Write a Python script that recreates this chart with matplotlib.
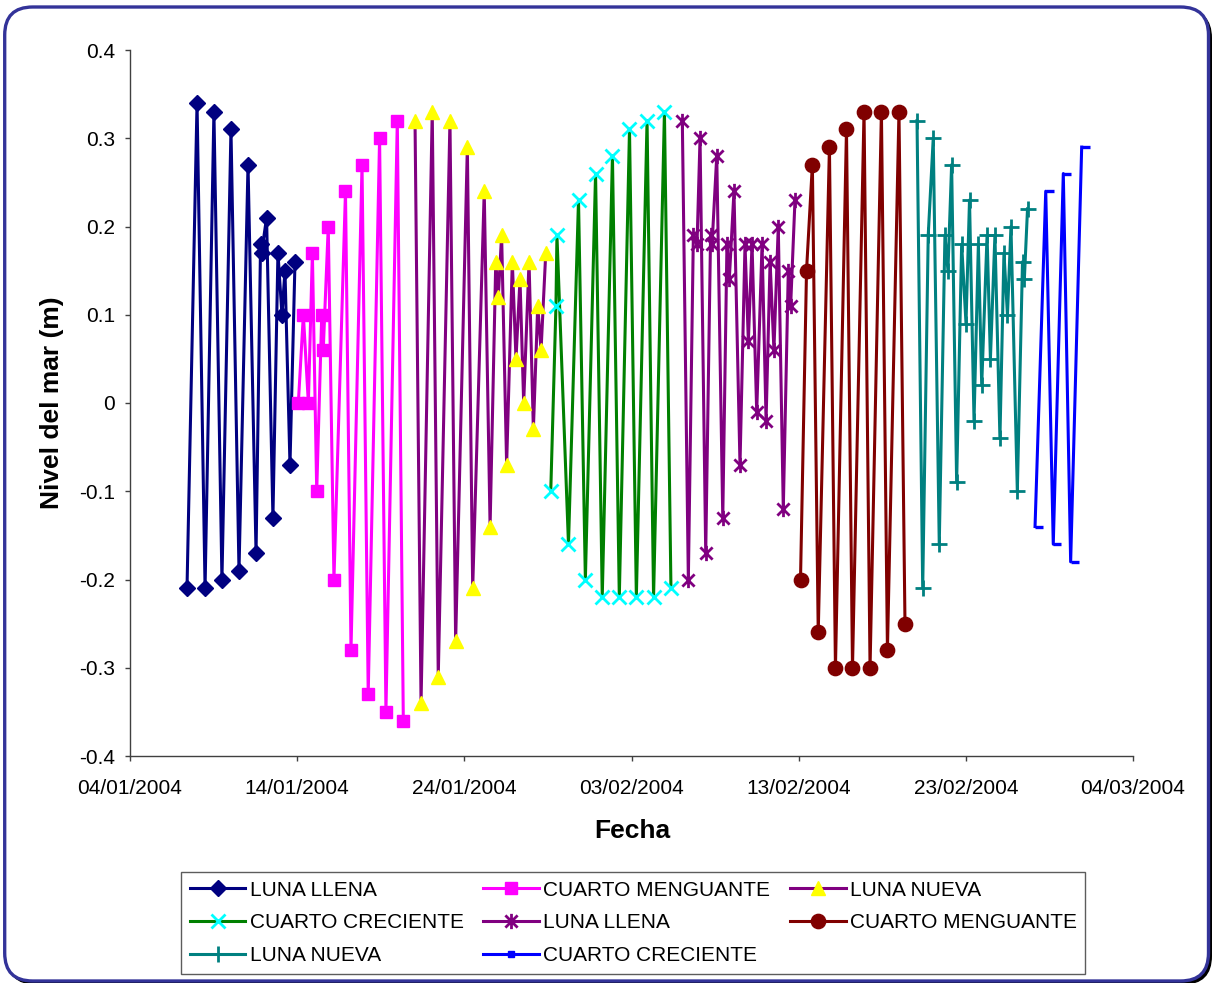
import matplotlib
matplotlib.use("Agg")
import matplotlib.pyplot as plt
import matplotlib.dates as mdates
from matplotlib.path import Path
from matplotlib.patches import FancyBboxPatch
from matplotlib.transforms import IdentityTransform
from matplotlib.lines import Line2D
import numpy as np
from datetime import datetime

plt.rcParams['font.family'] = ['Liberation Sans', 'DejaVu Sans']
plt.rcParams['axes.unicode_minus'] = False

# ---------------- data (x = days since 01/01/2004 00:00, y = sea level m) ----------------
BASE_DATE = datetime(2004, 1, 1)

s1_dias = [6.41, 7.01, 7.49, 8.02, 8.50, 9.04, 9.52, 10.06, 10.54, 10.81, 10.87,
           11.17, 11.55, 11.85, 12.09, 12.27, 12.57, 12.87]
s1_nivel = [-0.21, 0.34, -0.21, 0.33, -0.20, 0.31, -0.19, 0.27, -0.17, 0.18, 0.17,
            0.21, -0.13, 0.17, 0.10, 0.15, -0.07, 0.16]

s2_dias = [13.07, 13.37, 13.67, 13.91, 14.17, 14.47, 14.56, 14.86, 15.20, 15.89,
           16.22, 16.88, 17.25, 17.93, 18.31, 18.99, 19.35]
s2_nivel = [0.00, 0.10, 0.00, 0.17, -0.10, 0.10, 0.06, 0.20, -0.20, 0.24,
            -0.28, 0.27, -0.33, 0.30, -0.35, 0.32, -0.36]

s3_dias = [20.05, 20.41, 21.08, 21.44, 22.14, 22.48, 23.18, 23.50, 24.19, 24.54,
           24.88, 25.03, 25.23, 25.53, 25.87, 26.09, 26.33, 26.55, 26.87, 27.13,
           27.39, 27.59, 27.87]
s3_nivel = [0.32, -0.34, 0.33, -0.31, 0.32, -0.27, 0.29, -0.21, 0.24, -0.14,
            0.16, 0.12, 0.19, -0.07, 0.16, 0.05, 0.14, 0.00, 0.16, -0.03,
            0.11, 0.06, 0.17]

s4_dias = [28.17, 28.48, 28.54, 29.23, 29.83, 30.24, 30.85, 31.25, 31.86, 32.27,
           32.88, 33.29, 33.93, 34.32, 34.97, 35.36]
s4_nivel = [-0.10, 0.11, 0.19, -0.16, 0.23, -0.20, 0.26, -0.22, 0.28, -0.22,
            0.31, -0.22, 0.32, -0.22, 0.33, -0.21]

s5_dias = [36.04, 36.40, 36.70, 36.92, 37.10, 37.44, 37.73, 37.82, 38.10, 38.46,
           38.71, 38.85, 39.13, 39.49, 39.79, 39.99, 40.21, 40.49, 40.81, 41.05,
           41.29, 41.52, 41.78, 42.08, 42.38, 42.52, 42.78]
s5_nivel = [0.32, -0.20, 0.19, 0.18, 0.30, -0.17, 0.19, 0.18, 0.28, -0.13,
            0.18, 0.14, 0.24, -0.07, 0.18, 0.07, 0.18, -0.01, 0.18, -0.02,
            0.16, 0.06, 0.20, -0.12, 0.15, 0.11, 0.23]

s6_dias = [43.11, 43.47, 43.82, 44.17, 44.84, 45.20, 45.86, 46.22, 46.91, 47.27,
           47.95, 48.31, 49.00, 49.36]
s6_nivel = [-0.20, 0.15, 0.27, -0.26, 0.29, -0.30, 0.31, -0.30, 0.33, -0.30,
            0.33, -0.28, 0.33, -0.25]

s7_dias = [50.08, 50.42, 50.75, 51.05, 51.41, 51.75, 51.93, 52.15, 52.45, 52.75,
           53.01, 53.22, 53.49, 53.75, 53.95, 54.27, 54.47, 54.74, 55.04, 55.28,
           55.49, 55.70, 56.08, 56.39, 56.50, 56.69]
s7_nivel = [0.32, -0.21, 0.19, 0.30, -0.16, 0.19, 0.15, 0.27, -0.09, 0.18,
            0.09, 0.23, -0.02, 0.18, 0.02, 0.19, 0.05, 0.19, -0.04, 0.17,
            0.10, 0.20, -0.10, 0.16, 0.14, 0.22]

s8_dias = [57.14, 57.78, 58.23, 58.83, 59.27, 59.93]
s8_nivel = [-0.14, 0.24, -0.16, 0.26, -0.18, 0.29]

series_labels = ['LUNA LLENA', 'CUARTO MENGUANTE', 'LUNA NUEVA', 'CUARTO CRECIENTE',
                 'LUNA LLENA', 'CUARTO MENGUANTE', 'LUNA NUEVA', 'CUARTO CRECIENTE']

x_tick_dates = ['2004-01-04', '2004-01-14', '2004-01-24', '2004-02-03',
                '2004-02-13', '2004-02-23', '2004-03-04']
y_ticks = [-0.4, -0.3, -0.2, -0.1, 0.0, 0.1, 0.2, 0.3, 0.4]

# ---------------- figure ----------------
W, H = 1212, 983
fig = plt.figure(figsize=(W / 100, H / 100), dpi=100)
fig.patch.set_facecolor('white')

# rounded border with shadow (pixel coords)
shadow = FancyBboxPatch((7.5, -1.0), 1203.8, 974, boxstyle="round,pad=0,rounding_size=28",
                        transform=IdentityTransform(), facecolor='black', edgecolor='black',
                        lw=1, zorder=-3)
box = FancyBboxPatch((4.7, 2.0), 1203.8, 974, boxstyle="round,pad=0,rounding_size=28",
                     transform=IdentityTransform(), facecolor='white', edgecolor='#333399',
                     lw=2.4, zorder=-2)
fig.patches.extend([shadow, box])

ax = fig.add_axes([130 / W, 1 - 756 / H, (1133 - 130) / W, (756 - 50) / H])
ax.set_facecolor('none')

base = mdates.date2num(BASE_DATE)

def xs(d):
    return base + np.asarray(d)

# custom markers
asterisk = Path([(-1, -1), (1, 1), (-1, 1), (1, -1), (0, -1.25), (0, 1.25)],
                [Path.MOVETO, Path.LINETO, Path.MOVETO, Path.LINETO, Path.MOVETO, Path.LINETO])
dash_right = Path([(0, 0), (1, 0)], [Path.MOVETO, Path.LINETO])

LW = 2.2
h1, = ax.plot(xs(s1_dias), s1_nivel, color='#000080', lw=LW, marker='D', ms=7.8,
              mfc='#000080', mec='#000080', label=series_labels[0])
h2, = ax.plot(xs(s2_dias), s2_nivel, color='#FF00FF', lw=LW, marker='s', ms=9.3,
              mfc='#FF00FF', mec='#FF00FF', label=series_labels[1])
h3, = ax.plot(xs(s3_dias), s3_nivel, color='#800080', lw=LW, marker='^', ms=10.5,
              mfc='#FFFF00', mec='#FFFF00', label=series_labels[2])
h4, = ax.plot(xs(s4_dias), s4_nivel, color='#008000', lw=LW, marker='x', ms=9.5,
              mec='#00FFFF', mew=2, label=series_labels[3])
h5, = ax.plot(xs(s5_dias), s5_nivel, color='#800080', lw=LW, marker=asterisk, ms=11,
              mfc='none', mec='#800080', mew=2, label=series_labels[4])
h6, = ax.plot(xs(s6_dias), s6_nivel, color='#800000', lw=LW, marker='o', ms=10.3,
              mfc='#800000', mec='#800000', label=series_labels[5])
h7, = ax.plot(xs(s7_dias), s7_nivel, color='#008080', lw=LW, marker='+', ms=11,
              mec='#008080', mew=2, label=series_labels[6])
h8, = ax.plot(xs(s8_dias), s8_nivel, color='#0000FF', lw=LW, marker=dash_right, ms=12,
              mfc='none', mec='#0000FF', mew=2.4, label=series_labels[7])

# axes styling
axis_color = '#404040'
for side in ['top', 'right']:
    ax.spines[side].set_visible(False)
for side in ['left', 'bottom']:
    ax.spines[side].set_color(axis_color)
    ax.spines[side].set_linewidth(1)

tick_nums = [mdates.date2num(datetime.strptime(d, '%Y-%m-%d')) for d in x_tick_dates]
ax.set_xlim(tick_nums[0], tick_nums[-1])
ax.set_xticks(tick_nums)
ax.xaxis.set_major_formatter(mdates.DateFormatter('%d/%m/%Y'))
ax.set_ylim(y_ticks[0], y_ticks[-1])
ax.set_yticks(y_ticks)
ax.set_yticklabels(['%g' % round(v, 1) for v in y_ticks])
ax.tick_params(axis='both', direction='out', length=3.8, width=1, color=axis_color,
               labelsize=15, labelcolor='black')
ax.tick_params(axis='y', pad=7)
ax.tick_params(axis='x', pad=13)

fig.text(52 / W, 1 - 403 / H, 'Nivel del mar (m)', rotation=90, ha='center', va='center',
         fontsize=19, fontweight='bold')
fig.text(632 / W, 1 - 838 / H, 'Fecha', ha='center', va='baseline',
         fontsize=19, fontweight='bold')

# legend (row-wise order as in the reference)
h8_leg = Line2D([], [], color='#0000FF', lw=LW, marker='s', ms=4, mfc='#0000FF', mec='#0000FF')
handles = [h1, h4, h7, h2, h5, h8_leg, h3, h6]
labels = [series_labels[i] for i in [0, 3, 6, 1, 4, 7, 2, 5]]
leg = ax.legend(handles, labels, ncol=3, loc='upper left',
                bbox_to_anchor=(181 / W, 1 - 872 / H), bbox_transform=fig.transFigure,
                frameon=True, fancybox=False, shadow=False, fontsize=15,
                handlelength=2.67, handletextpad=0.2, columnspacing=0.95,
                labelspacing=0.66, borderpad=0.42, borderaxespad=0)
leg.get_frame().set_edgecolor('#333333')
leg.get_frame().set_linewidth(1)

fig.savefig('out.png', dpi=100, facecolor='white')
